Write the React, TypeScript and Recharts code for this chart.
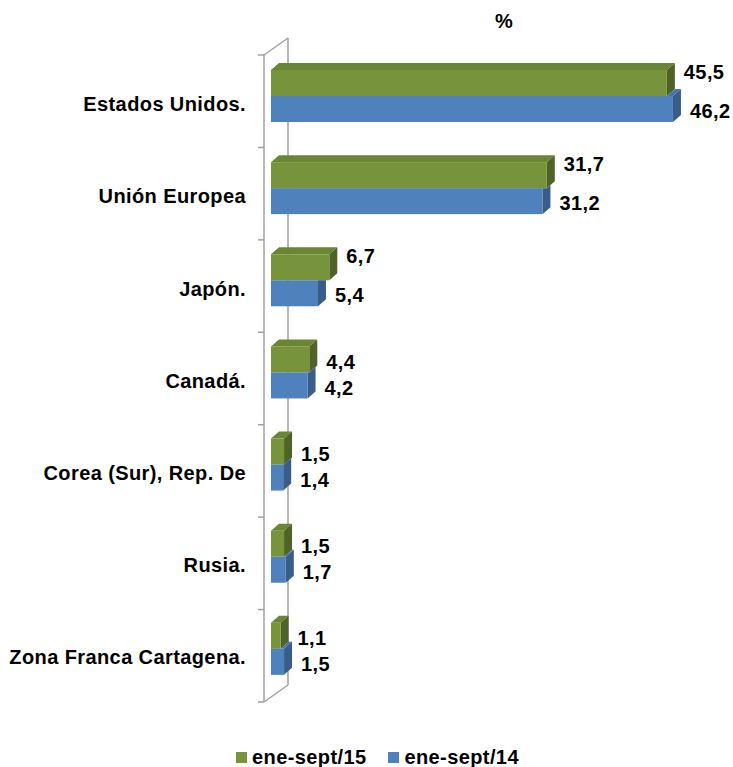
import React from "react";
import { BarChart, Bar, XAxis, YAxis, LabelList } from "recharts";

const paises = [
  "Estados Unidos.",
  "Unión Europea",
  "Japón.",
  "Canadá.",
  "Corea (Sur), Rep. De",
  "Rusia.",
  "Zona Franca Cartagena.",
];
const ene15 = [45.5, 31.7, 6.7, 4.4, 1.5, 1.5, 1.1];
const ene14 = [46.2, 31.2, 5.4, 4.2, 1.4, 1.7, 1.5];
const serieNames = ["ene-sept/15", "ene-sept/14"];

const data = paises.map((name, i) => ({ name, g15: ene15[i], b14: ene14[i] }));

const W = 733;
const H = 767;
const TOP = 50;
const BOTTOM = 72;
const LEFT = 271;
const RIGHT = 27;
const DX = 8;
const DY = 7;

const FONT = "'Liberation Sans', Arial, sans-serif";
const LS = 0.4;

const GREEN = "#77933C";
const GREEN_TOP = "#6a8534";
const GREEN_SIDE = "#4F6228";
const BLUE = "#4F81BD";
const BLUE_TOP = "#4674ab";
const BLUE_SIDE = "#385D8A";

const fmt = (v: number) => v.toFixed(1).replace(".", ",");

function GreenBar(props: any) {
  const { x, y, width: w, height: h } = props;
  const r = x + w;
  return (
    <g>
      <polygon points={`${x},${y} ${x + DX},${y - DY} ${r + DX},${y - DY} ${r},${y}`} fill={GREEN_TOP} />
      <polygon points={`${r},${y} ${r + DX},${y - DY} ${r + DX},${y + h - DY} ${r},${y + h}`} fill={GREEN_SIDE} />
      <rect x={x} y={y} width={w} height={h} fill={GREEN} />
    </g>
  );
}

function BlueBar(props: any) {
  const { x, y, width: w, height: h, payload } = props;
  const r = x + w;
  // end of the green bar just above, from the same scale
  const gE = x + (payload.g15 / payload.b14) * w;
  const a = Math.max(gE, x);
  const s = Math.min(Math.max(r, gE), r + DX);
  const yTop = y - (DY * (r + DX - s)) / DX;
  return (
    <g>
      {a < r && (
        <polygon points={`${a},${y} ${a + DX},${y - DY} ${r + DX},${y - DY} ${r},${y}`} fill={BLUE_TOP} />
      )}
      <polygon
        points={`${r},${y} ${s},${y} ${r + DX},${yTop} ${r + DX},${y + h - DY} ${r},${y + h}`}
        fill={BLUE_SIDE}
      />
      <rect x={x} y={y} width={w} height={h} fill={BLUE} />
    </g>
  );
}

function ValueLabel(props: any, up: boolean) {
  const { x, y, width, height, value } = props;
  const dy = up && value > 5 ? -11 : 2;
  return (
    <text
      x={x + width + DX + 9}
      y={y + height / 2 + dy}
      dy="0.36em"
      fontFamily={FONT}
      fontWeight="bold"
      fontSize={20}
      letterSpacing={LS}
      fill="#000"
    >
      {fmt(value)}
    </text>
  );
}

function CatTick(props: any) {
  const { y, payload } = props;
  return (
    <text
      x={246}
      y={y + 8}
      dy="0.36em"
      textAnchor="end"
      fontFamily={FONT}
      fontWeight="bold"
      fontSize={20}
      letterSpacing={LS}
      fill="#000"
    >
      {payload.value}
    </text>
  );
}

function Wall() {
  const plotH = H - TOP - BOTTOM;
  const fx = 264;
  const bx = 288;
  const fTop = 55;
  const fBot = fTop + plotH + 2;
  const ticks = Array.from({ length: paises.length + 1 }, (_, i) => fTop + i * ((fBot - fTop) / paises.length));
  return (
    <svg width={W} height={H} style={{ position: "absolute", left: 0, top: 0 }}>
      <g stroke="#A0A0A0" strokeWidth={1.5} fill="none">
        <line x1={fx} y1={fTop} x2={fx} y2={fBot} />
        <line x1={bx} y1={fTop - 17} x2={bx} y2={fBot - 17} />
        <line x1={fx} y1={fTop} x2={bx} y2={fTop - 17} />
        <line x1={fx} y1={fBot} x2={bx} y2={fBot - 17} />
        {ticks.map((t, i) => (
          <line key={i} x1={fx - 6} y1={t} x2={fx} y2={t} />
        ))}
      </g>
      <text x={504} y={28} textAnchor="middle" fontFamily={FONT} fontWeight="bold" fontSize={20} fill="#000">
        %
      </text>
    </svg>
  );
}

export default function App() {
  return (
    <div style={{ position: "absolute", left: 0, top: 0, width: W, height: H, background: "#fff" }}>
      <Wall />
      <div style={{ position: "absolute", left: 0, top: 0 }}>
        <BarChart
          width={W}
          height={H}
          data={data}
          layout="vertical"
          margin={{ top: TOP, right: RIGHT, bottom: BOTTOM, left: 0 }}
          barGap={0}
          barSize={26}
        >
          <XAxis type="number" domain={[0, 50]} hide />
          <YAxis type="category" dataKey="name" width={LEFT} axisLine={false} tickLine={false} tick={<CatTick />} interval={0} />
          <Bar dataKey="g15" name={serieNames[0]} fill={GREEN} shape={<GreenBar />} isAnimationActive={false}>
            <LabelList dataKey="g15" content={(p: any) => ValueLabel(p, true)} />
          </Bar>
          <Bar dataKey="b14" name={serieNames[1]} fill={BLUE} shape={<BlueBar />} isAnimationActive={false}>
            <LabelList dataKey="b14" content={(p: any) => ValueLabel(p, false)} />
          </Bar>
        </BarChart>
      </div>
      <div
        style={{
          position: "absolute",
          left: 236,
          top: 747,
          display: "flex",
          alignItems: "center",
          fontFamily: FONT,
          fontWeight: "bold",
          fontSize: 20,
          lineHeight: "20px",
          letterSpacing: LS,
          color: "#000",
        }}
      >
        <span style={{ width: 11, height: 11, background: GREEN, marginRight: 5 }} />
        <span style={{ marginRight: 22 }}>{serieNames[0]}</span>
        <span style={{ width: 11, height: 11, background: BLUE, marginRight: 5 }} />
        <span>{serieNames[1]}</span>
      </div>
    </div>
  );
}
